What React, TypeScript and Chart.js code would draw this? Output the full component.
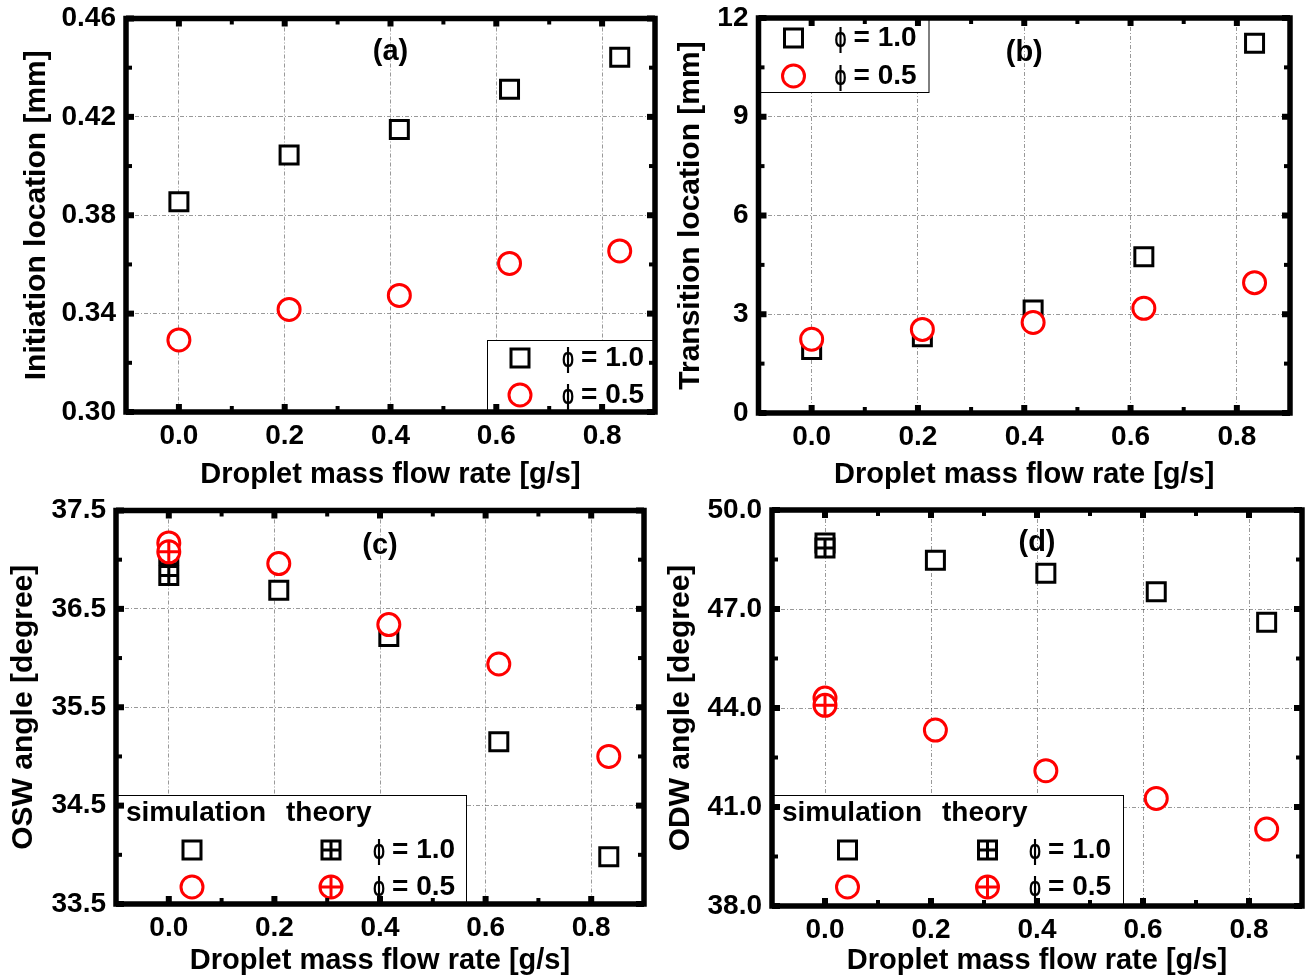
import React, { useEffect, useRef } from 'react';
import { Chart, registerables } from 'chart.js';

Chart.register(...registerables);

const FONT_FAMILY = "'Liberation Sans', Arial, Helvetica, sans-serif";
const RED = '#ff0000';
const BLACK = '#000000';
const GRID_COLOR = 'rgba(0,0,0,0.40)';

// ---------------- data ----------------
const flowRates = [0, 0.2083, 0.4167, 0.625, 0.8333];
const theoryFlowRates = [0];
const xTickValues = [0, 0.2, 0.4, 0.6, 0.8];
const xTitle = 'Droplet mass flow rate [g/s]';

// (a) initiation location [mm]
const initiationPhi10 = [0.3855, 0.4045, 0.4149, 0.4312, 0.4442];
const initiationPhi05 = [0.3293, 0.3417, 0.3474, 0.3604, 0.3655];
const initiationTicks = [0.3, 0.34, 0.38, 0.42, 0.46];

// (b) transition location [mm]
const transitionPhi10 = [1.93, 2.32, 3.13, 4.75, 11.23];
const transitionPhi05 = [2.24, 2.54, 2.75, 3.18, 3.96];
const transitionTicks = [0, 3, 6, 9, 12];

// (c) OSW angle [degree]
const oswSimPhi10 = [37.05, 36.69, 36.22, 35.15, 33.98];
const oswSimPhi05 = [37.17, 36.96, 36.34, 35.94, 35.0];
const oswTheoryPhi10 = [36.84];
const oswTheoryPhi05 = [37.08];
const oswTicks = [33.5, 34.5, 35.5, 36.5, 37.5];

// (d) ODW angle [degree]
const odwSimPhi10 = [49.0, 48.48, 48.08, 47.52, 46.6];
const odwSimPhi05 = [44.3, 43.33, 42.1, 41.26, 40.33];
const odwTheoryPhi10 = [48.85];
const odwTheoryPhi05 = [44.08];
const odwTicks = [38, 41, 44, 47, 50];

const phiSymbol = '\u03D5';
const phiValueLabels = ['= 1.0', '= 0.5'];

// ---------------- styling constants ----------------
const SQ_HALF = 9;
const CIRCLE_R = 11;
const MARKER_LW = 3;
const FRAME_LW = 5.5;
const MAJOR_LEN = 8;
const MAJOR_W = 6;
const MINOR_LEN = 6;
const MINOR_W = 4;
const PHI_GAP = 19;
const PHI_WIDTH = 12;

const tickFont = { family: FONT_FAMILY, size: 28, weight: 'bold' as const };
const legendFont = `bold 28px ${FONT_FAMILY}`;
const phiFont = `bold 28px ${FONT_FAMILY}`;
const labelFont = `bold 29px ${FONT_FAMILY}`;

const panels = [
  {
    id: 'a',
    canvasLeft: 0, canvasTop: 0, canvasWidth: 680, canvasHeight: 492,
    plot: { left: 126, top: 18.5, right: 655, bottom: 412 },
    yTicks: initiationTicks, yDecimals: 2,
    yTitle: 'Initiation location [mm]', yTitlePad: 18.5,
    label: '(a)', labelY: 0.4464,
    sim10: initiationPhi10, sim05: initiationPhi05, theory10: null, theory05: null,
    legend: { kind: 'simple', corner: 'br', w: 168, h: 72, rows: [18, 55], markerDx: 33, textDx: 75 },
  },
  {
    id: 'b',
    canvasLeft: 660, canvasTop: 0, canvasWidth: 649, canvasHeight: 492,
    plot: { left: 758.5, top: 18, right: 1290, bottom: 413 },
    yTicks: transitionTicks, yDecimals: 0,
    yTitle: 'Transition location [mm]', yTitlePad: 13,
    label: '(b)', labelY: 10.94,
    sim10: transitionPhi10, sim05: transitionPhi05, theory10: null, theory05: null,
    legend: { kind: 'simple', corner: 'tl', w: 170, h: 74, rows: [20, 58], markerDx: 35, textDx: 76 },
  },
  {
    id: 'c',
    canvasLeft: 0, canvasTop: 490, canvasWidth: 660, canvasHeight: 488,
    plot: { left: 116, top: 510.5, right: 644, bottom: 904 },
    yTicks: oswTicks, yDecimals: 1,
    yTitle: 'OSW angle [degree]', yTitlePad: 6,
    label: '(c)', labelY: 37.14,
    sim10: oswSimPhi10, sim05: oswSimPhi05, theory10: oswTheoryPhi10, theory05: oswTheoryPhi05,
    legend: { kind: 'simTheory', corner: 'bl', w: 350, h: 109, headerDy: 18, rows: [55, 92], simDx: 76, theoryDx: 215, textDx: 257, headSimDx: 10, headTheoryDx: 170 },
  },
  {
    id: 'd',
    canvasLeft: 660, canvasTop: 490, canvasWidth: 649, canvasHeight: 488,
    plot: { left: 772, top: 510, right: 1302, bottom: 906 },
    yTicks: odwTicks, yDecimals: 1,
    yTitle: 'ODW angle [degree]', yTitlePad: 2.5,
    label: '(d)', labelY: 49.0,
    sim10: odwSimPhi10, sim05: odwSimPhi05, theory10: odwTheoryPhi10, theory05: odwTheoryPhi05,
    legend: { kind: 'simTheory', corner: 'bl', w: 351, h: 111, headerDy: 18, rows: [55, 92], simDx: 75.5, theoryDx: 215.5, textDx: 257, headSimDx: 10, headTheoryDx: 170 },
  },
];

// ---------------- marker helpers (legend) ----------------
function drawSquare(ctx: CanvasRenderingContext2D, x: number, y: number, crossed: boolean) {
  ctx.save();
  ctx.lineWidth = MARKER_LW;
  ctx.strokeStyle = BLACK;
  ctx.fillStyle = '#fff';
  ctx.beginPath();
  ctx.rect(x - SQ_HALF, y - SQ_HALF, 2 * SQ_HALF, 2 * SQ_HALF);
  ctx.fill();
  ctx.stroke();
  if (crossed) {
    ctx.beginPath();
    ctx.moveTo(x - SQ_HALF, y); ctx.lineTo(x + SQ_HALF, y);
    ctx.moveTo(x, y - SQ_HALF); ctx.lineTo(x, y + SQ_HALF);
    ctx.stroke();
  }
  ctx.restore();
}

function drawCircle(ctx: CanvasRenderingContext2D, x: number, y: number, crossed: boolean) {
  ctx.save();
  ctx.lineWidth = MARKER_LW;
  ctx.strokeStyle = RED;
  ctx.fillStyle = '#fff';
  ctx.beginPath();
  ctx.arc(x, y, CIRCLE_R, 0, Math.PI * 2);
  ctx.fill();
  ctx.stroke();
  if (crossed) {
    ctx.beginPath();
    ctx.moveTo(x - CIRCLE_R, y); ctx.lineTo(x + CIRCLE_R, y);
    ctx.moveTo(x, y - CIRCLE_R); ctx.lineTo(x, y + CIRCLE_R);
    ctx.stroke();
  }
  ctx.restore();
}

function drawPhiText(ctx: CanvasRenderingContext2D, x: number, y: number, valueText: string) {
  ctx.save();
  ctx.fillStyle = BLACK;
  ctx.textAlign = 'left';
  ctx.textBaseline = 'middle';
  ctx.font = phiFont;
  ctx.fillText(phiSymbol, x, y + 1, PHI_WIDTH);
  ctx.font = legendFont;
  ctx.fillText(valueText, x + PHI_GAP, y);
  ctx.restore();
}

function midpoints(arr: number[]) {
  const out: number[] = [];
  for (let i = 0; i < arr.length - 1; i++) out.push((arr[i] + arr[i + 1]) / 2);
  return out;
}

function markerDataset(data: any[], style: string, color: string, radius: number) {
  return {
    data,
    showLine: false,
    pointStyle: style,
    pointRadius: radius,
    pointHoverRadius: radius,
    pointBorderWidth: MARKER_LW,
    pointHoverBorderWidth: MARKER_LW,
    pointBorderColor: color,
    pointBackgroundColor: style === 'cross' ? 'rgba(0,0,0,0)' : '#ffffff',
    borderColor: color,
    backgroundColor: '#ffffff',
    clip: false,
  };
}

function zeroPadding(s: any) {
  s.paddingTop = 0;
  s.paddingBottom = 0;
  s.paddingLeft = 0;
  s.paddingRight = 0;
}

function buildConfig(spec: any) {
  const { plot } = spec;
  const yAxisWidth = plot.left - spec.canvasLeft;
  const xAxisHeight = spec.canvasTop + spec.canvasHeight - plot.bottom;
  const padTop = plot.top - spec.canvasTop;
  const padRight = spec.canvasLeft + spec.canvasWidth - plot.right;
  const yMin = spec.yTicks[0];
  const yMax = spec.yTicks[spec.yTicks.length - 1];

  const toPts = (xs: number[], ys: number[]) => ys.map((y, i) => ({ x: xs[i], y }));
  const rectR = SQ_HALF / Math.SQRT1_2;

  const datasets: any[] = [];
  if (spec.theory05) {
    datasets.push(markerDataset(toPts(theoryFlowRates, spec.theory05), 'cross', RED, CIRCLE_R));
    datasets.push(markerDataset(toPts(theoryFlowRates, spec.theory05), 'circle', RED, CIRCLE_R));
  }
  datasets.push(markerDataset(toPts(flowRates, spec.sim05), 'circle', RED, CIRCLE_R));
  if (spec.theory10) {
    datasets.push(markerDataset(toPts(theoryFlowRates, spec.theory10), 'cross', BLACK, SQ_HALF));
    datasets.push(markerDataset(toPts(theoryFlowRates, spec.theory10), 'rect', BLACK, rectR));
  }
  datasets.push(markerDataset(toPts(flowRates, spec.sim10), 'rect', BLACK, rectR));

  const decor = {
    id: 'decor' + spec.id,
    afterDatasetsDraw(chart: any) {
      const { ctx, chartArea } = chart;
      const { left, top, right, bottom } = chartArea;
      const lg = spec.legend;
      let bx = left, by = top;
      if (lg.corner === 'br') { bx = right - lg.w; by = bottom - lg.h; }
      else if (lg.corner === 'bl') { bx = left; by = bottom - lg.h; }
      ctx.save();
      ctx.fillStyle = '#fff';
      ctx.fillRect(bx, by, lg.w, lg.h);
      ctx.lineWidth = 1;
      ctx.strokeStyle = BLACK;
      ctx.strokeRect(bx + 0.5, by + 0.5, lg.w, lg.h);
      ctx.font = legendFont;
      ctx.fillStyle = BLACK;
      ctx.textAlign = 'left';
      ctx.textBaseline = 'middle';
      if (lg.kind === 'simple') {
        drawSquare(ctx, bx + lg.markerDx, by + lg.rows[0], false);
        drawCircle(ctx, bx + lg.markerDx, by + lg.rows[1], false);
        drawPhiText(ctx, bx + lg.textDx, by + lg.rows[0], phiValueLabels[0]);
        drawPhiText(ctx, bx + lg.textDx, by + lg.rows[1], phiValueLabels[1]);
      } else {
        ctx.fillText('simulation', bx + lg.headSimDx, by + lg.headerDy);
        ctx.fillText('theory', bx + lg.headTheoryDx, by + lg.headerDy);
        drawSquare(ctx, bx + lg.simDx, by + lg.rows[0], false);
        drawSquare(ctx, bx + lg.theoryDx, by + lg.rows[0], true);
        drawCircle(ctx, bx + lg.simDx, by + lg.rows[1], false);
        drawCircle(ctx, bx + lg.theoryDx, by + lg.rows[1], true);
        drawPhiText(ctx, bx + lg.textDx, by + lg.rows[0], phiValueLabels[0]);
        drawPhiText(ctx, bx + lg.textDx, by + lg.rows[1], phiValueLabels[1]);
      }
      // panel label
      const xs = chart.scales.x;
      const ys = chart.scales.y;
      ctx.font = labelFont;
      ctx.fillStyle = BLACK;
      ctx.textAlign = 'center';
      ctx.textBaseline = 'middle';
      ctx.fillText(spec.label, xs.getPixelForValue(0.4), ys.getPixelForValue(spec.labelY));
      ctx.restore();
    },
    afterDraw(chart: any) {
      const { ctx, chartArea } = chart;
      const { left, top, right, bottom } = chartArea;
      const xs = chart.scales.x;
      const ys = chart.scales.y;
      ctx.save();
      ctx.strokeStyle = BLACK;
      ctx.lineCap = 'butt';
      ctx.lineJoin = 'miter';
      ctx.lineWidth = FRAME_LW;
      ctx.strokeRect(left, top, right - left, bottom - top);
      const seg = (x1: number, y1: number, x2: number, y2: number, w: number) => {
        ctx.lineWidth = w;
        ctx.beginPath();
        ctx.moveTo(x1, y1);
        ctx.lineTo(x2, y2);
        ctx.stroke();
      };
      const xMinor = midpoints(xTickValues);
      xTickValues.forEach((v) => {
        const px = xs.getPixelForValue(v);
        seg(px, top, px, top + MAJOR_LEN, MAJOR_W);
        seg(px, bottom, px, bottom - MAJOR_LEN, MAJOR_W);
      });
      xMinor.forEach((v) => {
        const px = xs.getPixelForValue(v);
        seg(px, top, px, top + MINOR_LEN, MINOR_W);
        seg(px, bottom, px, bottom - MINOR_LEN, MINOR_W);
      });
      const yMinor = midpoints(spec.yTicks);
      spec.yTicks.forEach((v: number) => {
        const py = ys.getPixelForValue(v);
        seg(left, py, left + MAJOR_LEN, py, MAJOR_W);
        seg(right, py, right - MAJOR_LEN, py, MAJOR_W);
      });
      yMinor.forEach((v: number) => {
        const py = ys.getPixelForValue(v);
        seg(left, py, left + MINOR_LEN, py, MINOR_W);
        seg(right, py, right - MINOR_LEN, py, MINOR_W);
      });
      ctx.restore();
    },
  };

  return {
    type: 'scatter' as const,
    data: { datasets },
    plugins: [decor],
    options: {
      responsive: false,
      animation: false as const,
      events: [],
      layout: { autoPadding: false, padding: { top: padTop, right: padRight, left: 0, bottom: 0 } },
      plugins: { legend: { display: false }, tooltip: { enabled: false }, title: { display: false } },
      scales: {
        x: {
          type: 'linear' as const,
          min: -0.1,
          max: 0.9,
          afterBuildTicks: (s: any) => { s.ticks = xTickValues.map((v) => ({ value: v })); },
          afterFit: (s: any) => { s.height = xAxisHeight; zeroPadding(s); },
          grid: { color: GRID_COLOR, lineWidth: 1, drawTicks: false },
          border: { display: false, dash: [4, 2, 1, 2] },
          ticks: {
            padding: 7.5,
            color: BLACK,
            font: tickFont,
            maxRotation: 0,
            autoSkip: false,
            callback: (v: any) => Number(v).toFixed(1),
          },
          title: {
            display: true,
            text: xTitle,
            color: BLACK,
            font: { family: FONT_FAMILY, size: 29, weight: 'bold' as const },
            padding: { top: 0, bottom: 0 },
          },
        },
        y: {
          type: 'linear' as const,
          min: yMin,
          max: yMax,
          afterBuildTicks: (s: any) => { s.ticks = spec.yTicks.map((v: number) => ({ value: v })); },
          afterFit: (s: any) => { s.width = yAxisWidth; zeroPadding(s); },
          grid: { color: GRID_COLOR, lineWidth: 1, drawTicks: false },
          border: { display: false, dash: [4, 2, 1, 2] },
          ticks: {
            padding: 10,
            color: BLACK,
            font: tickFont,
            autoSkip: false,
            callback: (v: any) => Number(v).toFixed(spec.yDecimals),
          },
          title: {
            display: true,
            text: spec.yTitle,
            color: BLACK,
            font: { family: FONT_FAMILY, size: 30, weight: 'bold' as const },
            padding: { top: spec.yTitlePad, bottom: 0 },
          },
        },
      },
    },
  };
}

function PanelChart({ spec }: { spec: any }) {
  const ref = useRef<HTMLCanvasElement | null>(null);
  useEffect(() => {
    if (!ref.current) return;
    const chart = new Chart(ref.current, buildConfig(spec) as any);
    return () => chart.destroy();
  }, [spec]);
  return (
    <canvas
      ref={ref}
      width={spec.canvasWidth}
      height={spec.canvasHeight}
      style={{
        position: 'absolute',
        left: spec.canvasLeft,
        top: spec.canvasTop,
        width: spec.canvasWidth,
        height: spec.canvasHeight,
      }}
    />
  );
}

export default function App() {
  return (
    <div
      style={{
        position: 'fixed',
        left: 0,
        top: 0,
        width: 1309,
        height: 978,
        background: '#ffffff',
        overflow: 'hidden',
      }}
    >
      {panels.map((p) => (
        <PanelChart key={p.id} spec={p} />
      ))}
    </div>
  );
}
